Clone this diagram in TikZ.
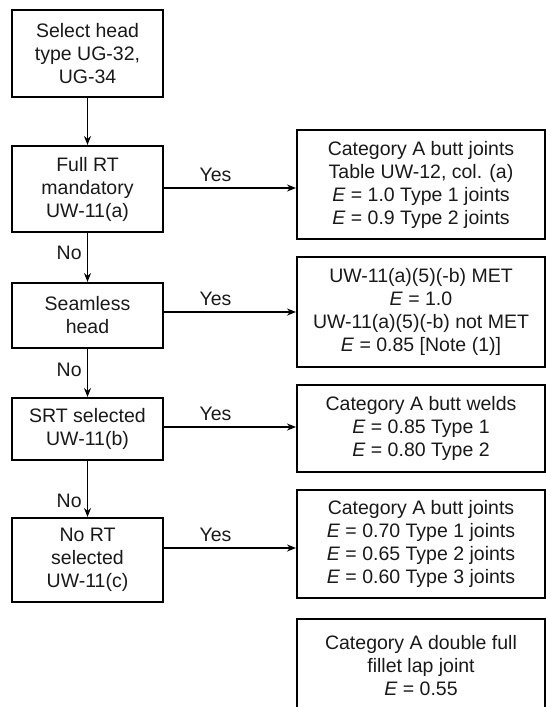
\documentclass[tikz,border=0pt]{standalone}
\usepackage{fontspec}
\setmainfont{Liberation Sans}
\usetikzlibrary{arrows.meta}
\begin{document}
\begin{tikzpicture}[x=1pt,y=-1pt,
  box/.style={draw, line width=2pt, inner sep=0pt, align=center, text=black!90,
    font=\fontsize{19.5}{23}\selectfont},
  lbox/.style={box, minimum width=151pt},
  rbox/.style={box, minimum width=248pt},
  arr/.style={line width=1.8pt, -{Stealth[length=9pt,width=7pt]}},
  lab/.style={font=\fontsize{19.5}{23}\selectfont, text=black!90, inner sep=1pt}]
\useasboundingbox (0,0) rectangle (546,707);
\clip (0,0) rectangle (546,707);

% left column
\node[lbox, minimum height=87pt] (b1) at (87.5,53.5) {Select head\\type UG-32,\\UG-34};
\node[lbox, minimum height=86pt] (b2) at (87.5,189) {Full RT\\mandatory\\UW-11(a)};
\node[lbox, minimum height=65pt] (b3) at (87.5,315.5) {Seamless\\head};
\node[lbox, minimum height=62pt] (b4) at (87.5,429) {SRT selected\\UW-11(b)};
\node[lbox, minimum height=84pt] (b5) at (87.5,560) {No RT\\selected\\UW-11(c)};

% right column
\node[rbox, minimum height=109pt] (r1) at (421,184.5)
  {Category A butt joints\\Table UW-12, col. (a)\\\textit{E} = 1.0 Type 1 joints\\\textit{E} = 0.9 Type 2 joints};
\node[rbox, minimum height=110pt] (r2) at (421,312)
  {UW-11(a)(5)(-b) MET\\\textit{E} = 1.0\\UW-11(a)(5)(-b) not MET\\\textit{E} = 0.85 [Note (1)]};
\node[rbox, minimum height=87pt] (r3) at (421,428.5)
  {Category A butt welds\\\textit{E} = 0.85 Type 1\\\textit{E} = 0.80 Type 2};
\node[rbox, minimum height=108pt] (r4) at (421,544)
  {Category A butt joints\\\textit{E} = 0.70 Type 1 joints\\\textit{E} = 0.65 Type 2 joints\\\textit{E} = 0.60 Type 3 joints};
\node[rbox, minimum height=93pt] (r5) at (421,665.5)
  {Category A double full\\fillet lap joint\\\textit{E} = 0.55};

% vertical flow
\draw[arr] (b1) -- (b2);
\draw[arr] (b2) -- node[lab, pos=0.4, left=4pt] {No} (b3);
\draw[arr] (b3) -- node[lab, pos=0.44, left=4pt] {No} (b4);
\draw[arr] (b4) -- node[lab, pos=0.72, left=4pt] {No} (b5);

% yes branches
\draw[arr] ([yshift=1pt]b2.east) -- node[lab, pos=0.39, above=4pt] {Yes} ([yshift=1pt]b2.east -| r1.west);
\draw[arr] ([yshift=3.5pt]b3.east) -- node[lab, pos=0.39, above=4pt] {Yes} ([yshift=3.5pt]b3.east -| r2.west);
\draw[arr] ([yshift=2pt]b4.east) -- node[lab, pos=0.39, above=4pt] {Yes} ([yshift=2pt]b4.east -| r3.west);
\draw[arr] ([yshift=12pt]b5.east) -- node[lab, pos=0.39, above=4pt] {Yes} ([yshift=12pt]b5.east -| r4.west);
\end{tikzpicture}
\end{document}
